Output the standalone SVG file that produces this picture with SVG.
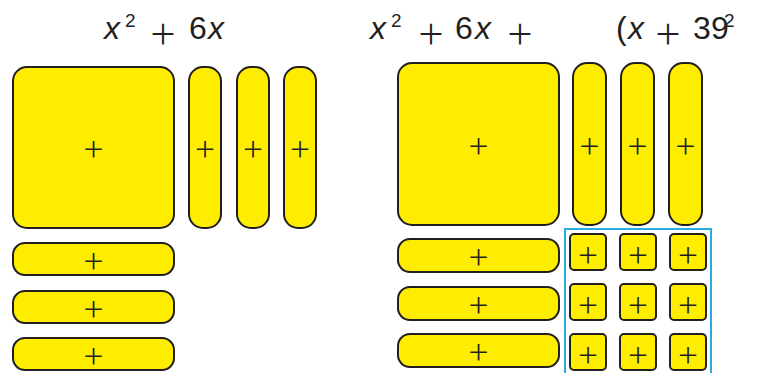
<svg xmlns="http://www.w3.org/2000/svg" width="757" height="373" viewBox="0 0 757 373">
<style>
.tile{fill:#ffed00;stroke:#231f20;stroke-width:2}
.frame{fill:none;stroke:#29abe2;stroke-width:2}
.p{font-family:"Inter","Lato","DejaVu Sans",sans-serif;font-weight:200;font-size:38px;fill:#231f20;text-anchor:middle;dominant-baseline:central}
.t{font-family:"Liberation Sans",Arial,sans-serif;font-size:32px;fill:#231f20}
.i{font-style:italic}
.s{font-size:19px}
.tp{font-family:"Inter","Lato","DejaVu Sans",sans-serif;font-weight:200;font-size:48px;fill:#231f20;text-anchor:middle;dominant-baseline:central}
</style>
<rect width="757" height="373" fill="#ffffff"/>
<g id="title-left">
<text class="t"><tspan class="i" x="104" y="39">x</tspan><tspan class="s" x="125" y="27">2</tspan></text>
<text class="tp" x="163" y="30">+</text>
<text class="t"><tspan x="189" y="39">6</tspan><tspan class="i" x="208" y="39">x</tspan></text>
</g>
<g id="title-right">
<text class="t"><tspan class="i" x="370" y="39">x</tspan><tspan class="s" x="391" y="27">2</tspan></text>
<text class="tp" x="431" y="30">+</text>
<text class="t"><tspan x="455" y="39">6</tspan><tspan class="i" x="475" y="39">x</tspan></text>
<text class="tp" x="520" y="30">+</text>
<text class="t"><tspan x="616" y="39">(</tspan><tspan class="i" x="628" y="39">x</tspan></text>
<text class="tp" x="668" y="30">+</text>
<text class="t"><tspan x="693" y="39">3</tspan><tspan x="711" y="39">9</tspan><tspan class="s" x="724" y="27">2</tspan></text>
</g>
<g id="left-x2"><rect class="tile" x="13" y="67" width="161" height="161" rx="14"/><text class="p" x="93.5" y="146">+</text></g>
<g id="left-x-v1"><rect class="tile" x="189" y="67" width="32" height="161" rx="14"/><text class="p" x="205" y="146">+</text></g>
<g id="left-x-v2"><rect class="tile" x="237" y="67" width="32" height="161" rx="14"/><text class="p" x="253" y="146">+</text></g>
<g id="left-x-v3"><rect class="tile" x="284" y="67" width="32" height="161" rx="14"/><text class="p" x="300" y="146">+</text></g>
<g id="left-x-h1"><rect class="tile" x="13" y="243" width="161" height="32" rx="12"/><text class="p" x="93.5" y="257.5">+</text></g>
<g id="left-x-h2"><rect class="tile" x="13" y="291" width="161" height="32" rx="12"/><text class="p" x="93.5" y="305.5">+</text></g>
<g id="left-x-h3"><rect class="tile" x="13" y="338" width="161" height="32" rx="12"/><text class="p" x="93.5" y="352.5">+</text></g>
<g id="right-x2"><rect class="tile" x="398" y="63" width="161" height="162" rx="14"/><text class="p" x="478.5" y="142.5">+</text></g>
<g id="right-x-v1"><rect class="tile" x="573" y="63" width="33" height="162" rx="14"/><text class="p" x="589.5" y="142.5">+</text></g>
<g id="right-x-v2"><rect class="tile" x="621" y="63" width="33" height="162" rx="14"/><text class="p" x="637.5" y="142.5">+</text></g>
<g id="right-x-v3"><rect class="tile" x="669" y="63" width="33" height="162" rx="14"/><text class="p" x="685.5" y="142.5">+</text></g>
<g id="right-x-h1"><rect class="tile" x="398" y="239" width="161" height="33" rx="12"/><text class="p" x="478.5" y="254">+</text></g>
<g id="right-x-h2"><rect class="tile" x="398" y="287" width="161" height="33" rx="12"/><text class="p" x="478.5" y="302">+</text></g>
<g id="right-x-h3"><rect class="tile" x="398" y="334" width="161" height="33" rx="12"/><text class="p" x="478.5" y="349">+</text></g>
<g id="unit-frame"><rect class="frame" x="565" y="229" width="146" height="160"/></g>
<g id="unit-1-1"><rect class="tile" x="570" y="234" width="36" height="36" rx="4"/><text class="p" x="588" y="252">+</text></g>
<g id="unit-1-2"><rect class="tile" x="620" y="234" width="36" height="36" rx="4"/><text class="p" x="638" y="252">+</text></g>
<g id="unit-1-3"><rect class="tile" x="670" y="234" width="36" height="36" rx="4"/><text class="p" x="688" y="252">+</text></g>
<g id="unit-2-1"><rect class="tile" x="570" y="284" width="36" height="36" rx="4"/><text class="p" x="588" y="302">+</text></g>
<g id="unit-2-2"><rect class="tile" x="620" y="284" width="36" height="36" rx="4"/><text class="p" x="638" y="302">+</text></g>
<g id="unit-2-3"><rect class="tile" x="670" y="284" width="36" height="36" rx="4"/><text class="p" x="688" y="302">+</text></g>
<g id="unit-3-1"><rect class="tile" x="570" y="334" width="36" height="36" rx="4"/><text class="p" x="588" y="352">+</text></g>
<g id="unit-3-2"><rect class="tile" x="620" y="334" width="36" height="36" rx="4"/><text class="p" x="638" y="352">+</text></g>
<g id="unit-3-3"><rect class="tile" x="670" y="334" width="36" height="36" rx="4"/><text class="p" x="688" y="352">+</text></g>
<g id="connectors"/>
</svg>
